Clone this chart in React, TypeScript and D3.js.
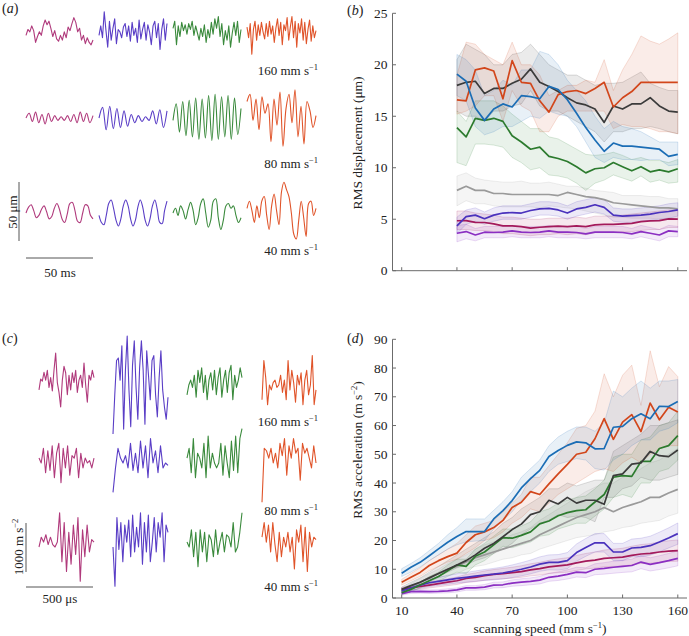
import React from "react";
import * as d3 from "d3";

const FONT = "Liberation Serif";

// ---------- panel (b)/(d) data ----------
const speedTicks = [10, 40, 70, 100, 130, 160];
const speedsB = [40, 45, 50, 55, 60, 65, 70, 75, 80, 85, 90, 95, 100, 105, 110, 115, 120, 125, 130, 135, 140, 145, 150, 155, 160];
const speedsD = [10, 15, 20, 25, 30, 35, 40, 45, 50, 55, 60, 65, 70, 75, 80, 85, 90, 95, 100, 105, 110, 115, 120, 125, 130, 135, 140, 145, 150, 155, 160];
const dispTicks = [0, 5, 10, 15, 20, 25];
const accTicks = [0, 10, 20, 30, 40, 50, 60, 70, 80, 90];

const seriesColors = ["#1b6db5", "#d2461b", "#3b3b3b", "#2c7b2e", "#9a9a9a", "#4a32bd", "#a3195b", "#8b2fc2"];

// displacement (b): mean, lower, upper
const blueB = [19.1, 18.4, 15.8, 14.6, 15.7, 16.2, 15.9, 17.0, 16.9, 16.7, 17.9, 17.6, 16.6, 15.3, 13.9, 12.7, 11.6, 12.4, 12.1, 12.1, 12.0, 11.9, 11.8, 11.1, 11.3];
const blueBLo = [17, 16.5, 14, 13.2, 13.5, 14, 14, 14.5, 15, 14.8, 15.5, 15.2, 15, 14, 12.5, 11, 10.5, 11, 10.8, 10.8, 10.7, 10.8, 10.8, 10.2, 10.3];
const blueBHi = [21, 20.5, 19.5, 17, 17.5, 18.5, 18, 19.5, 19.5, 21.3, 21, 20, 18.5, 17.5, 16.5, 15, 13.8, 14.5, 14, 13.8, 13.5, 13, 12.5, 12.5, 12.5];
const redB = [16.6, 16.5, 19.5, 19.7, 19.4, 16.7, 20.4, 18.3, 18.2, 16.5, 15.4, 17.1, 17.4, 17.5, 17.2, 17.7, 18.3, 15.9, 16.8, 17.4, 18.3, 18.3, 18.3, 18.3, 18.3];
const redBLo = [15.2, 15.5, 16, 17, 17, 14.5, 17.5, 16, 15.5, 13.5, 13.5, 15, 15.5, 15.5, 15.5, 15.5, 15.5, 13.8, 14.2, 14, 14, 13.8, 13.5, 13.5, 13.3];
const redBHi = [19, 22.2, 22, 21, 20.5, 20, 22.2, 20, 20, 19, 17, 17.5, 18, 18, 18.5, 18.3, 20.5, 17.5, 19.5, 21, 22.8, 22.3, 22, 22.5, 23.1];
const blackB = [18.0, 18.3, 18.4, 17.2, 17.7, 17.7, 18.2, 18.6, 19.6, 18.3, 17.9, 17.4, 16.8, 16.3, 16.1, 15.7, 14.4, 16.0, 15.7, 16.2, 16.2, 16.8, 16.0, 15.5, 15.4];
const blackBLo = [15.5, 15, 15, 14.5, 15.5, 15.5, 16, 16.2, 17.5, 16, 15.5, 15.5, 15, 14.5, 14, 13.5, 12.5, 13.5, 13.5, 13.8, 13.8, 14, 13.8, 13.5, 13.3];
const blackBHi = [20.5, 22, 21.5, 21, 20, 20, 21, 21.2, 22, 21, 20, 19.5, 19, 19, 18.5, 18, 18.2, 18.2, 18.3, 18.8, 19.3, 18.2, 17.8, 17.5, 17.5];
const greenB = [13.9, 13.0, 14.8, 14.6, 14.8, 14.5, 13.1, 12.5, 11.8, 12.0, 11.1, 10.9, 10.6, 10.1, 9.5, 9.9, 10.0, 10.5, 10.1, 9.7, 10.1, 9.6, 9.8, 9.6, 9.9];
const greenBLo = [10.5, 10.2, 12.3, 12.3, 12.2, 12, 11, 10.5, 9.8, 10, 9.3, 9.2, 9, 8.5, 7.8, 8.5, 8.8, 9.3, 9, 8.7, 9.2, 8.6, 8.8, 8.5, 8.6];
const greenBHi = [15.5, 14.5, 16.5, 16.5, 16.5, 16, 15.2, 14.5, 13.8, 13.8, 13, 12.8, 12.3, 11.8, 11.3, 11.2, 11.3, 11.5, 11.2, 10.8, 11, 10.7, 10.7, 10.5, 10.8];
const grayB = [7.8, 8.2, 7.8, 7.8, 7.5, 7.5, 7.4, 7.4, 7.4, 7.4, 7.4, 7.3, 7.6, 7.4, 7.2, 7.1, 6.9, 6.6, 6.5, 6.4, 6.3, 6.2, 6.1, 6.1, 6.0];
const grayBLo = [6.3, 6.8, 6.5, 6.5, 6.3, 6.2, 6.2, 6.2, 6.2, 6.1, 6.3, 6.2, 6.1, 6.0, 5.8, 5.6, 5.4, 5.2, 5.2, 5.1, 5.1, 5.1, 5.0, 5.0, 5.0];
const grayBHi = [9.2, 9.5, 9, 8.8, 8.7, 8.6, 8.6, 8.7, 8.5, 8.5, 8.6, 8.4, 8.2, 8.2, 8.0, 7.8, 7.7, 7.6, 7.3, 7.3, 7.3, 7.2, 7.2, 7.0, 7.0];
const indigoB = [4.35, 5.25, 5.4, 5.05, 5.4, 5.6, 5.65, 5.6, 5.85, 6.0, 6.05, 5.9, 5.6, 6.0, 6.15, 6.4, 6.15, 5.4, 5.3, 5.35, 5.4, 5.5, 5.65, 5.75, 5.9];
const indigoBLo = [3.6, 4.5, 4.8, 4.5, 4.8, 5.0, 5.0, 5.0, 5.2, 5.4, 5.4, 5.3, 5.0, 5.3, 5.5, 5.7, 5.5, 4.8, 4.7, 4.7, 4.8, 4.9, 5.0, 5.1, 5.3];
const indigoBHi = [5.2, 5.9, 6.1, 5.7, 6.1, 6.3, 6.3, 6.3, 6.5, 6.7, 6.7, 6.6, 6.3, 6.7, 6.9, 7.1, 6.9, 6.1, 6.0, 6.0, 6.1, 6.2, 6.3, 6.5, 6.6];
const crimsonB = [4.85, 4.87, 4.7, 4.68, 4.55, 4.35, 4.35, 4.28, 4.13, 4.22, 4.28, 4.32, 4.28, 4.35, 4.28, 4.45, 4.5, 4.5, 4.55, 4.6, 4.77, 4.84, 4.87, 5.03, 5.0];
const crimsonBLo = [4.0, 4.0, 3.9, 3.9, 3.8, 3.6, 3.6, 3.5, 3.4, 3.5, 3.5, 3.6, 3.5, 3.6, 3.5, 3.7, 3.7, 3.7, 3.8, 3.8, 3.9, 4.0, 4.0, 4.2, 4.2];
const crimsonBHi = [5.8, 5.8, 5.6, 5.5, 5.4, 5.2, 5.2, 5.1, 5.0, 5.0, 5.1, 5.1, 5.1, 5.2, 5.1, 5.3, 5.3, 5.3, 5.4, 5.5, 5.6, 5.7, 5.8, 5.9, 5.9];
const purpleB = [3.64, 3.8, 3.47, 3.74, 3.71, 3.74, 3.87, 3.74, 3.71, 3.74, 3.87, 3.74, 3.74, 3.71, 3.57, 3.74, 3.76, 3.74, 3.71, 3.57, 3.8, 3.64, 3.47, 3.87, 3.8];
const purpleBLo = [2.8, 3.1, 2.9, 3.2, 3.2, 3.2, 3.3, 3.2, 3.2, 3.2, 3.3, 3.2, 3.2, 3.2, 3.1, 3.2, 3.2, 3.2, 3.2, 3.1, 3.3, 3.1, 2.9, 3.3, 3.3];
const purpleBHi = [4.4, 4.5, 4.1, 4.3, 4.3, 4.3, 4.4, 4.3, 4.3, 4.3, 4.4, 4.3, 4.3, 4.3, 4.1, 4.3, 4.3, 4.3, 4.3, 4.1, 4.4, 4.2, 4.0, 4.4, 4.3];

// acceleration (d): mean, lower, upper
const blueD = [8.6, 10.7, 12.4, 14.7, 17.1, 19.4, 21.4, 23.1, 23.1, 23.1, 27.5, 30.4, 33.9, 38.3, 41.5, 44.4, 49.2, 51.3, 53.1, 54.3, 54.0, 51.9, 52.0, 59.4, 59.7, 62.4, 64.1, 62.4, 66.7, 66.6, 68.4];
const blueDLo = [7.5, 9, 10.8, 13, 15, 17, 18.5, 19.5, 19.8, 20, 24, 27, 30, 34, 37, 40, 44, 46.5, 47.5, 48.5, 48, 45, 44.5, 48, 50, 53, 55, 55, 58, 59, 61];
const blueDHi = [10.2, 12, 14, 16.5, 19, 22, 24.5, 27.5, 27.5, 27.5, 30.5, 33.5, 37, 42, 45, 48, 53, 56, 58, 59.5, 59.5, 58, 61, 72, 70, 73, 75.5, 73, 75.5, 75.5, 76];
const redD = [5.5, 7.2, 8.9, 11.3, 13.0, 14.4, 15.6, 19.3, 22.0, 23.0, 24.5, 27.0, 31.5, 33.3, 37.0, 36.0, 39.7, 43.2, 46.5, 50.0, 50.7, 55.4, 62.4, 55.2, 61.2, 63.8, 57.9, 67.8, 62.0, 66.4, 64.7];
const redDLo = [4.5, 6, 7.5, 9.5, 11, 12.5, 13.5, 15.5, 17.5, 20, 21, 23, 26, 28, 31, 30, 33, 36, 38, 40, 42, 44, 45, 44, 47, 49, 47, 50, 52, 53, 53];
const redDHi = [6.5, 8.5, 10.5, 13, 15, 17, 19, 22, 25, 26, 27, 30, 33, 36, 42, 42, 46, 50, 54, 59, 60, 65, 78, 70, 77.5, 81, 67, 86, 73.5, 80.5, 77];
const blackD = [3.0, 4.3, 5.5, 7.0, 8.5, 10.0, 11.5, 13.0, 15.0, 17.3, 19.0, 21.3, 23.8, 25.7, 29.0, 30.0, 34.0, 32.7, 35.0, 33.0, 34.0, 34.0, 32.6, 42.6, 43.2, 46.6, 47.0, 51.0, 49.5, 49.2, 51.5];
const blackDLo = [2.3, 3.5, 4.5, 6, 7.5, 9, 10.5, 11.5, 13, 14, 15.5, 17, 19, 22, 24, 26, 27, 29, 28, 28.5, 28, 26.5, 35, 35, 38, 39, 42, 41, 41, 42, 43];
const blackDHi = [3.8, 5.5, 7, 9, 11, 13, 15, 17, 19, 21, 23, 26, 28, 31, 33, 35, 38, 38, 40, 39, 40, 41, 41, 51, 53, 55, 57, 60, 60, 61, 62];
const greenD = [1.8, 3.0, 4.5, 6.0, 7.5, 9.5, 11.5, 11.0, 14.5, 16.0, 18.5, 21.0, 20.8, 21.8, 23.0, 25.8, 26.8, 28.6, 29.7, 30.4, 30.7, 33.4, 36.0, 42.0, 42.6, 42.3, 47.5, 47.5, 52.0, 53.0, 56.5];
const greenDLo = [1.2, 2.2, 3.5, 4.8, 6, 7.5, 9, 8.5, 11.5, 13, 15.5, 18, 17.5, 18.5, 19.5, 21.5, 22, 24, 25, 26, 26, 28.5, 31, 35, 36, 35, 40, 40, 44, 45, 48];
const greenDHi = [2.5, 4, 5.5, 7.5, 9, 11.5, 13.5, 13.5, 17, 19, 21.5, 24, 24, 25, 26.5, 30, 31, 33, 34, 35, 35.5, 38, 41, 49, 50, 50, 55, 56, 60, 61, 65];
const grayD = [2.5, 4.0, 5.5, 7.0, 8.5, 10.0, 11.0, 12.5, 14.0, 15.0, 16.0, 17.0, 18.0, 19.0, 20.0, 22.0, 23.5, 25.0, 26.5, 28.0, 29.0, 30.0, 31.5, 30.0, 31.5, 32.5, 33.5, 35.0, 35.0, 36.5, 37.8];
const grayDLo = [1.8, 3, 4.2, 5.5, 7, 8, 8.5, 10, 11, 11.5, 12.5, 13.5, 14, 15, 15.5, 17, 18, 19, 20, 21, 21.5, 22, 23, 23.5, 24.5, 25, 26, 26.5, 27, 28.5, 29.5];
const grayDHi = [3.2, 5, 6.8, 8.5, 10, 12, 13.5, 15, 17, 18.5, 19.5, 20.5, 22, 23, 24.5, 27, 29, 31, 33, 35, 37, 38.5, 40, 40, 42, 43, 45, 47, 48, 50, 52];
const indigoD = [2.5, 3.5, 4.5, 5.3, 5.8, 6.3, 6.8, 7.2, 7.6, 8.0, 8.3, 8.7, 9.3, 10.0, 10.8, 11.8, 12.4, 12.4, 13.0, 15.8, 17.6, 19.2, 19.2, 16.0, 16.0, 17.4, 17.6, 18.2, 19.5, 20.9, 22.4];
const indigoDLo = [1.8, 2.6, 3.4, 4.0, 4.4, 4.8, 5.2, 5.5, 5.8, 6.1, 6.3, 6.6, 7.1, 7.7, 8.4, 9.3, 9.8, 9.7, 10.2, 12.8, 14.5, 16.0, 16.0, 13.0, 13.0, 14.3, 14.4, 14.9, 16.1, 17.4, 18.7];
const indigoDHi = [3.2, 4.4, 5.6, 6.6, 7.2, 7.8, 8.4, 8.9, 9.4, 9.9, 10.3, 10.8, 11.5, 12.3, 13.2, 14.3, 15.0, 15.1, 15.8, 18.8, 20.7, 22.4, 22.4, 19.0, 19.0, 20.5, 20.8, 21.5, 22.9, 24.4, 26.1];
const crimsonD = [3.0, 3.5, 4.0, 4.5, 5.0, 5.5, 6.0, 6.8, 7.2, 7.8, 8.2, 8.5, 8.8, 9.2, 9.8, 10.2, 10.8, 11.2, 11.5, 12.2, 12.8, 13.2, 13.8, 14.0, 14.2, 14.8, 15.3, 15.5, 16.0, 16.3, 16.5];
const crimsonDLo = [2.3, 2.7, 3.1, 3.5, 3.9, 4.3, 4.7, 5.4, 5.7, 6.2, 6.5, 6.7, 6.9, 7.2, 7.7, 8.0, 8.5, 8.8, 9.0, 9.6, 10.1, 10.4, 10.9, 11.0, 11.1, 11.6, 12.0, 12.1, 12.5, 12.7, 12.8];
const crimsonDHi = [3.7, 4.3, 4.9, 5.5, 6.1, 6.7, 7.3, 8.2, 8.7, 9.4, 9.9, 10.3, 10.7, 11.2, 11.9, 12.4, 13.1, 13.6, 14.0, 14.8, 15.5, 16.0, 16.7, 17.0, 17.3, 18.0, 18.6, 18.9, 19.5, 19.9, 20.2];
const purpleD = [1.5, 2.2, 2.3, 2.2, 2.3, 2.5, 2.8, 3.5, 3.5, 3.8, 4.5, 4.6, 5.2, 5.5, 5.8, 6.2, 7.2, 7.6, 8.2, 9.0, 8.8, 10.0, 10.3, 10.7, 11.0, 11.3, 12.5, 11.7, 12.3, 13.0, 13.8];
const purpleDLo = [1.0, 1.6, 1.7, 1.6, 1.7, 1.8, 2.1, 2.7, 2.7, 2.9, 3.5, 3.6, 4.1, 4.3, 4.6, 4.9, 5.8, 6.1, 6.6, 7.3, 7.1, 8.1, 8.3, 8.6, 8.9, 9.1, 10.2, 9.4, 9.9, 10.5, 11.2];
const purpleDHi = [2.0, 2.8, 2.9, 2.8, 2.9, 3.2, 3.5, 4.3, 4.3, 4.7, 5.5, 5.6, 6.3, 6.7, 7.0, 7.5, 8.6, 9.1, 9.8, 10.7, 10.5, 11.9, 12.3, 12.8, 13.1, 13.5, 14.8, 14.0, 14.7, 15.5, 16.4];

// ---------- waveform traces ----------
const traceColors = ["#b03a7c", "#5a3ec6", "#3a8a3c", "#e0542a"];
const rowLabels = ["160", "80", "40"];

// (a) displacement traces, μm
const a160c1 = [-2, 3, 1, 6, 2, -8, -3, 1, -2, 6, 11, 7, 10, 4, -3, 2, -5, -7, -2, -6, 1, -4, 5, 2, 8, 13, 9, 1, 4, -6, -2, -9, -4, -8, -10, -6];
const a160c2 = [-2, 6, -4, 18, 2, -12, 10, -6, 4, 12, -9, 3, 1, -4, 5, 8, -3, 6, -7, 9, -2, 4, -8, 11, -5, 3, 9, -6, 7, 1, -10, 6, 10, -4, 8, -14, 3, 12, -6, 8];
const a160c3 = [4, 10, -10, 6, -3, 9, 2, 7, -1, 8, 3, 10, -2, 6, 0, -6, 4, -3, 7, -8, 3, -4, 9, -1, 12, 4, 14, -3, 8, -10, 2, -6, 6, -12, 0, 9, -2, 10, -8, 3];
const a160c4 = [5, -4, 8, -18, 3, 10, -6, 7, -2, 9, 1, -5, 8, -3, 10, -1, 6, -8, 4, 12, -2, 9, -10, 7, 2, 13, -6, 5, 14, -4, 10, -12, 8, 0, 12, -6, 9, -9, 3, 11, -7, 6, -4, 2];
const a80c1 = [0, 4, -3, 5, -4, 3, -5, 4, -3, 2, -2, 1, -2, 2, -3, 3, -4, 5, -3, 4, -4, 2];
const a80c2 = [0, 9, -10, 10, -9, 8, -8, 6, -7, 3, -4, 2, -3, 1, -2, 6, -5, 7, -8, 6];
const a80c3 = [-2, 12, -12, 14, -15, 15, -16, 17, -18, 16, -17, 19, -19, 20, -18, 18, -16, 19, -18, 17, -14, 8];
const a80c4 = [14, 20, -2, 16, -10, 18, 4, 12, -20, 16, -6, 22, -24, 8, 20, -4, 24, -16, 10, -22, 14, 6, -8, 2];
const a40c1 = [0, 5, 7, 2, -4, -2, 3, 6, 1, -5, -3, 4, 8, 3, -5, -8, -1, 8, 9, 2, -7, -8, 0, 7, 6, -2, -5];
const a40c2 = [-2, -8, -10, -2, 8, 11, 4, -6, -11, -5, 6, 11, 6, -5, -11, -6, 5, 11, 5, -6, -11, -5, 6, 11, 3, -8, -9, 2, 10];
const a40c3 = [0, 4, -2, 6, 2, -5, 3, 9, 2, -10, -4, 8, 12, 0, -12, -6, 10, 12, -4, -14, -6, 6, 8, 4, 6, -2, -8, -4];
const a40c4 = [4, 10, 2, -8, 6, -4, 10, 14, -2, -14, 6, 16, 2, -10, 18, 26, 20, 14, 0, -18, -22, -6, 10, -4, -20, 8, 10, -2, 4];

// (c) acceleration traces, m s^-2
const c160c1 = [-100, 120, 80, 260, 100, 300, -50, 150, -120, 300, 650, 50, -150, -450, 100, 380, 250, -200, 200, -100, 250, 50, 300, -150, 100, 200, -50, 450, 0, -350, 200, 100, 300, 150];
const c160c2 = [-1000, -200, 500, 550, 100, 800, -900, 300, 1000, -100, -850, 400, 900, -50, -700, 350, 900, 300, -800, 700, 200, -300, 500, 600, -200, -650, 150, 700, -100, -450, -700, -250];
const c160c3 = [-200, 0, 100, -50, 200, -250, 300, 50, 350, -150, 200, -300, 100, 250, -100, 300, -200, 150, 350, -250, 100, 300, -150, 250, 400, -300, 200, -50, 100, 350, 150];
const c160c4 = [-300, 500, 150, -400, 0, -100, 50, 100, -50, 0, 200, -150, 100, -300, 500, -100, 300, 50, -350, 200, 0, 250, -400, 100, 300, -200, 0, 600, -400, -100];
const c80c1 = [100, 0, 300, -200, 250, -150, 350, -300, 200, 400, -400, 300, -100, 350, -250, 150, 100, 300, -300, 200, -100, 100, 0, 50, -100, 100];
const c80c2 = [-600, -100, 300, 100, 0, 150, -100, 400, -150, 200, -200, 450, -100, 350, -300, 500, 0, 250, -200, 350, -100, 0, -50];
const c80c3 = [100, 300, -200, 500, -300, 200, 100, -100, 400, -300, 550, -100, 200, 0, -100, 0, 400, -250, 350, 0, -300, 450, -150, 550, -200, 500, 700];
const c80c4 = [-800, 300, 250, 100, 300, 0, 200, -100, 400, 150, 500, -250, 350, 100, 500, 200, 300, -350, 400, 200, 300, 100, -100, 350, 0];
const c40c1 = [0, 200, 100, 250, 50, 200, 50, 0, 100, 700, -300, 500, -500, 300, -350, 450, -150, 600, -700, 350, -200, 450, -100, 150, 100];
const c40c2 = [0, -800, 600, -50, 500, -300, 450, 100, 550, -200, 650, -100, 400, 0, 700, -350, 500, -100, 650, -300, 100, 600, -100, 500, 200, 700, -300, 450, 300];
const c40c3 = [100, 0, 350, -200, 300, -400, 350, -100, 300, -300, 250, 150, -200, 350, -150, 100, 300, -100, 250, 200, 0, 500, -100, 0, 300, 700];
const c40c4 = [200, 500, 100, 450, -100, 500, 50, -300, 300, -200, 200, 0, 300, -100, 200, -450, 350, 100, 450, -300, 400, -500, 300, 0, 200, 150];

const dispTraces = [
  [a160c1, a160c2, a160c3, a160c4],
  [a80c1, a80c2, a80c3, a80c4],
  [a40c1, a40c2, a40c3, a40c4],
];
const accTraces = [
  [c160c1, c160c2, c160c3, c160c4],
  [c80c1, c80c2, c80c3, c80c4],
  [c40c1, c40c2, c40c3, c40c4],
];

// ---------- layout ----------
const xSpeed = d3.scaleLinear().domain([5, 165]).range([392.5, 687]);
const yDisp = d3.scaleLinear().domain([0, 25]).range([270.7, 13.3]);
const yAcc = d3.scaleLinear().domain([0, 90]).range([598, 339.3]);

const aCols = [[26, 93], [99, 167], [173, 241], [247, 316]];
const aRows = [33, 118, 213];
const aPxPerUnit = 59 / 50;
const cCols = [[39, 94], [113, 168], [187, 242], [262, 316]];
const cRows = [385, 463, 547];
const cPxPerUnit = 49 / 1000;

const txt = (size: number) => ({ fontFamily: FONT, fontSize: size + "px" });

function Sup({ t }: { t: string }) {
  return (
    <tspan dy={-5} style={{ fontSize: "8.5px" }}>
      {t}
    </tspan>
  );
}

function Traces({ traces, cols, rows, pxPer, smoothRows }: any) {
  return (
    <g>
      {traces.map((row: number[][], ri: number) =>
        row.map((tr: number[], ci: number) => {
          const x = d3.scaleLinear().domain([0, tr.length - 1]).range(cols[ci]);
          const y = d3.scaleLinear().domain([-1, 1]).range([rows[ri] + pxPer, rows[ri] - pxPer]);
          const line = d3
            .line<number>()
            .x((_, i) => x(i))
            .y((v) => y(v))
            .curve(smoothRows.includes(ri) ? d3.curveCatmullRom : d3.curveLinear);
          return (
            <path
              key={ri + "-" + ci}
              d={line(tr) || ""}
              fill="none"
              stroke={traceColors[ci]}
              strokeWidth={1.1}
              strokeLinejoin="round"
            />
          );
        })
      )}
    </g>
  );
}

function SpeedLabels({ ys }: { ys: number[] }) {
  return (
    <g style={txt(13)} fill="#222" textAnchor="end">
      {rowLabels.map((l, i) => (
        <text key={l} x={318} y={ys[i]}>
          {l} mm s<Sup t="−1" />
        </text>
      ))}
    </g>
  );
}

function BandPanel({ xs, yScale, ticks, series }: any) {
  const line = d3
    .line<number>()
    .x((_, i) => xSpeed(xs[i]))
    .y((v) => yScale(v));
  const y0 = yScale(0);
  const yTop = yScale(ticks[ticks.length - 1]);
  return (
    <g>
      {series.map((s: any, k: number) => {
        const a = d3
          .area<number>()
          .x((_, i) => xSpeed(xs[i]))
          .y0((_, i) => yScale(s.lo[i]))
          .y1((_, i) => yScale(s.hi[i]));
        return (
          <path
            key={"b" + k}
            d={a(s.mean) || ""}
            fill={s.color}
            fillOpacity={0.1}
            stroke={s.color}
            strokeOpacity={0.17}
            strokeWidth={1}
          />
        );
      })}
      {series.map((s: any, k: number) => (
        <path key={"l" + k} d={line(s.mean) || ""} fill="none" stroke={s.color} strokeWidth={1.7} strokeLinejoin="round" />
      ))}
      <g stroke="#6b6b6b" strokeWidth={1} fill="none">
        <line x1={392.5} x2={392.5} y1={y0} y2={yTop} />
        <line x1={392.5} x2={687} y1={y0} y2={y0} />
        {ticks.map((t: number) => (
          <line key={"yt" + t} x1={392.5} x2={396} y1={yScale(t)} y2={yScale(t)} />
        ))}
        {speedTicks.map((t) => (
          <line key={"xt" + t} x1={xSpeed(t)} x2={xSpeed(t)} y1={y0} y2={y0 - 3.5} />
        ))}
      </g>
      <g style={txt(13.5)} fill="#222" textAnchor="end">
        {ticks.map((t: number) => (
          <text key={"yl" + t} x={387.5} y={yScale(t) + 4.6}>
            {t}
          </text>
        ))}
      </g>
    </g>
  );
}

export default function App() {
  const makeSeries = (means: number[][], los: number[][], his: number[][]) =>
    means.map((m, i) => ({ mean: m, lo: los[i], hi: his[i], color: seriesColors[i] }));
  const order = [4, 7, 6, 5, 3, 2, 1, 0];
  const sB = makeSeries(
    [blueB, redB, blackB, greenB, grayB, indigoB, crimsonB, purpleB],
    [blueBLo, redBLo, blackBLo, greenBLo, grayBLo, indigoBLo, crimsonBLo, purpleBLo],
    [blueBHi, redBHi, blackBHi, greenBHi, grayBHi, indigoBHi, crimsonBHi, purpleBHi]
  );
  const sD = makeSeries(
    [blueD, redD, blackD, greenD, grayD, indigoD, crimsonD, purpleD],
    [blueDLo, redDLo, blackDLo, greenDLo, grayDLo, indigoDLo, crimsonDLo, purpleDLo],
    [blueDHi, redDHi, blackDHi, greenDHi, grayDHi, indigoDHi, crimsonDHi, purpleDHi]
  );
  const oB = order.map((i) => sB[i]);
  const oD = order.map((i) => sD[i]);

  return (
    <svg
      width={689}
      height={636}
      viewBox="0 0 689 636"
      style={{ position: "absolute", left: 0, top: 0, background: "#fff" }}
    >
      <rect x={0} y={0} width={689} height={636} fill="#fff" />

      <g style={txt(14)} fill="#222">
        <text x={2} y={13}>
          (<tspan fontStyle="italic">a</tspan>)
        </text>
        <text x={347} y={15}>
          (<tspan fontStyle="italic">b</tspan>)
        </text>
        <text x={2} y={343}>
          (<tspan fontStyle="italic">c</tspan>)
        </text>
        <text x={347} y={343}>
          (<tspan fontStyle="italic">d</tspan>)
        </text>
      </g>

      {/* (a) */}
      <Traces traces={dispTraces} cols={aCols} rows={aRows} pxPer={aPxPerUnit} smoothRows={[1, 2]} />
      <SpeedLabels ys={[75, 168, 255]} />
      <g stroke="#555" strokeWidth={1}>
        <line x1={19} x2={19} y1={182} y2={241} />
        <line x1={26} x2={93} y1={258} y2={258} />
      </g>
      <g style={txt(13)} fill="#222" textAnchor="middle">
        <text transform="translate(16.5,212) rotate(-90)">50 μm</text>
        <text x={60} y={277}>
          50 ms
        </text>
      </g>

      {/* (c) */}
      <Traces traces={accTraces} cols={cCols} rows={cRows} pxPer={cPxPerUnit} smoothRows={[]} />
      <SpeedLabels ys={[426, 515, 591]} />
      <g stroke="#555" strokeWidth={1}>
        <line x1={26} x2={26} y1={523} y2={572} />
        <line x1={26} x2={93} y1={587} y2={587} />
      </g>
      <g style={txt(13)} fill="#222" textAnchor="middle">
        <text transform="translate(23,547) rotate(-90)">
          1000 m s<Sup t="−2" />
        </text>
        <text x={60} y={603}>
          500 μs
        </text>
      </g>

      {/* (b) */}
      <BandPanel xs={speedsB} yScale={yDisp} ticks={dispTicks} series={oB} />
      <g style={txt(13.5)} fill="#222" textAnchor="middle">
        <text transform="translate(362,143) rotate(-90)">RMS displacement (μm)</text>
      </g>

      {/* (d) */}
      <BandPanel xs={speedsD} yScale={yAcc} ticks={accTicks} series={oD} />
      <g style={txt(13.5)} fill="#222" textAnchor="middle">
        <text transform="translate(362,450) rotate(-90)">
          RMS acceleration (m s<Sup t="−2" />
          <tspan dy={5}>)</tspan>
        </text>
        {speedTicks.map((t) => (
          <text key={"xl" + t} x={xSpeed(t)} y={615}>
            {t}
          </text>
        ))}
        <text x={540} y={633}>
          scanning speed (mm s<Sup t="−1" />
          <tspan dy={5}>)</tspan>
        </text>
      </g>
    </svg>
  );
}
